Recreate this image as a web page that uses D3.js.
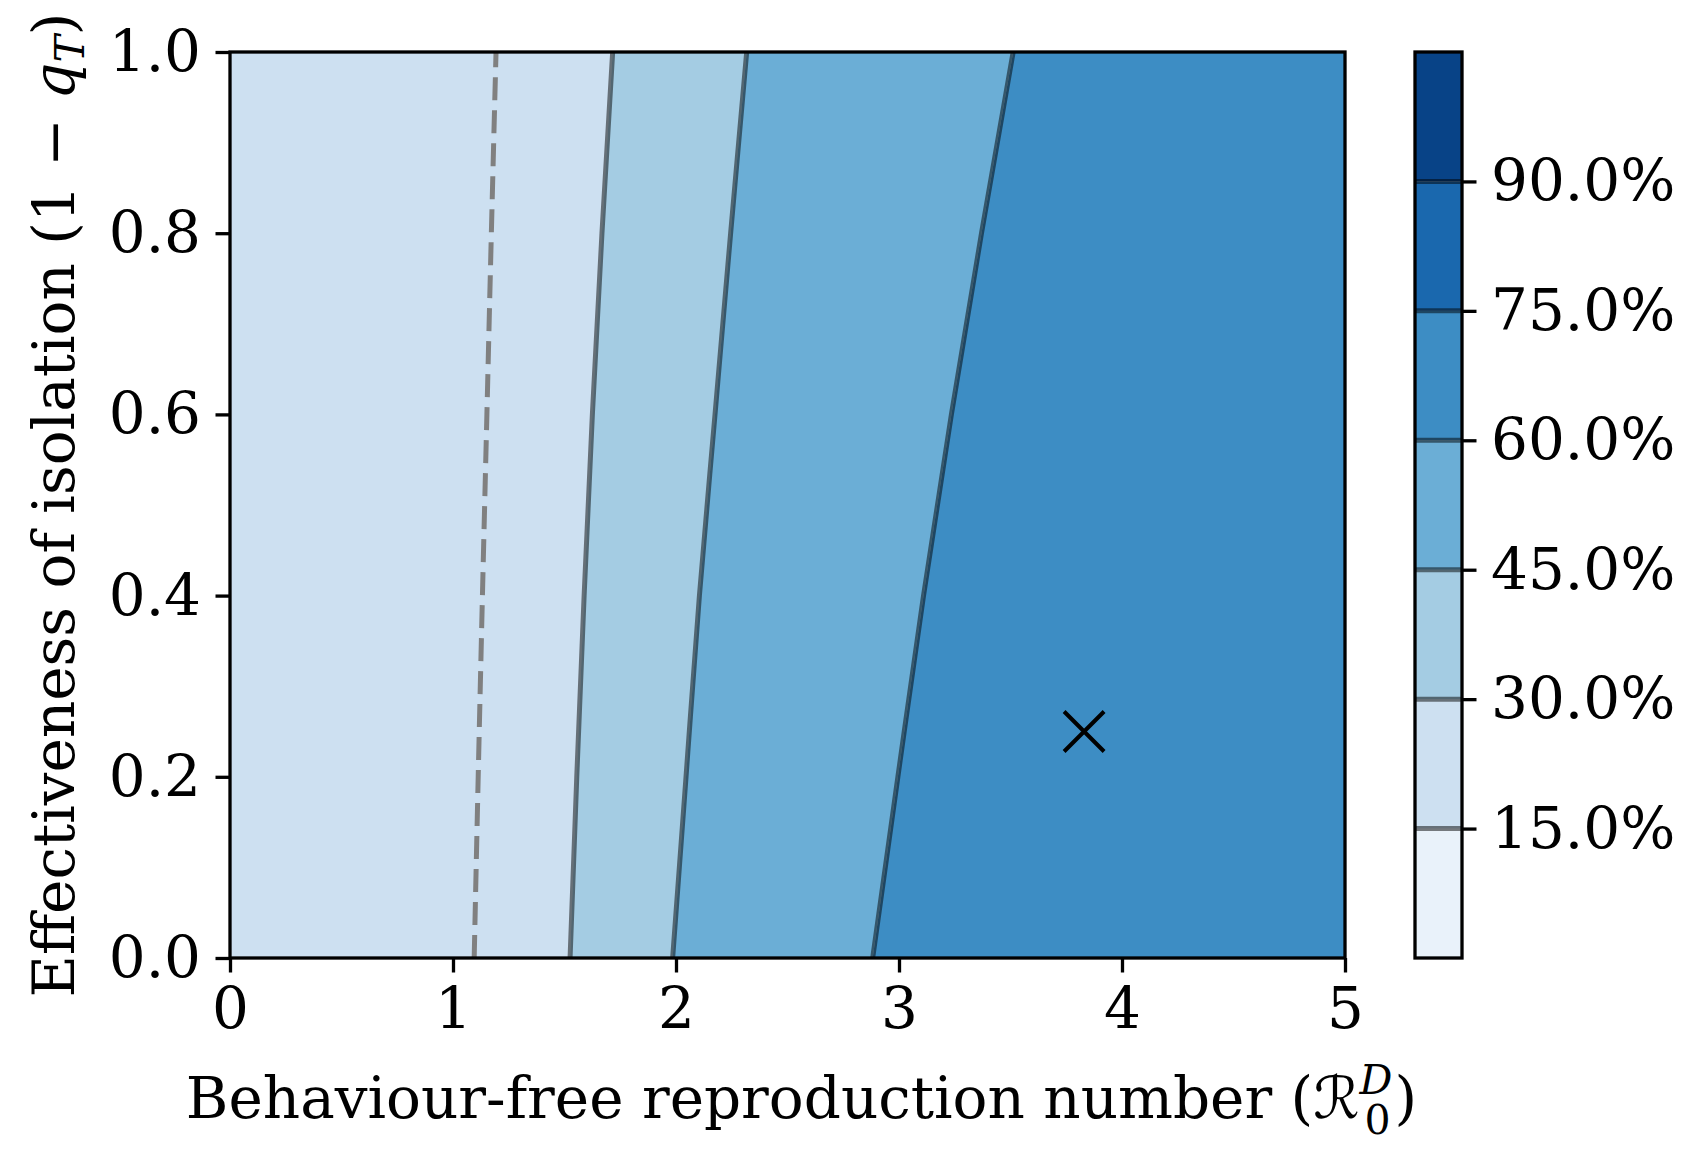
<!DOCTYPE html>
<html>
<head>
<meta charset="utf-8">
<script src="https://cdn.jsdelivr.net/npm/d3@7"></script>
<style>
  body { margin: 0; background: #fff; }
  text { font-family: "DejaVu Serif", serif; fill: #000; }
</style>
</head>
<body>
<svg id="chart" width="1705" height="1162"></svg>
<script>
// values
var qT = [0, 0.2, 0.4, 0.6, 0.8, 1.0];                 // effectiveness of isolation
var r30 = [1.525, 1.555, 1.588, 1.625, 1.668, 1.716];  // 30% contour
var r45 = [1.985, 2.045, 2.105, 2.175, 2.245, 2.317];  // 45% contour
var r60 = [2.882, 2.995, 3.11, 3.235, 3.37, 3.512];    // 60% contour
var rOne = [1.095, 1.113, 1.132, 1.152, 1.172, 1.193]; // threshold (dashed)
var levels = [0, 0.15, 0.3, 0.45, 0.6, 0.75, 0.9, 1.05];
var cbTicks = [0.15, 0.3, 0.45, 0.6, 0.75, 0.9];
var xTicks = [0, 1, 2, 3, 4, 5];
var yTicks = [0, 0.2, 0.4, 0.6, 0.8, 1.0];
var markerPt = [3.83, 0.25];

var blues9 = ["#f7fbff","#deebf7","#c6dbef","#9ecae1","#6baed6","#4292c6","#2171b5","#08519c","#08306b"];

var svg = d3.select("#chart");
var L = 230, R = 1345, T = 52, B = 958;
var fs = 58, fsSmall = 41, tickLen = 14.5, pad = 14.5;

var x = d3.scaleLinear().domain([0, 5]).range([L, R]);
var y = d3.scaleLinear().domain([0, 1]).range([B, T]);
var cmap = d3.scaleLinear().domain(d3.range(9).map(function(i){ return i/8; })).range(blues9);
var bandColor = function(i){ return cmap(((levels[i] + levels[i+1]) / 2) / levels[levels.length-1]); };

// filled bands
var clip = svg.append("clipPath").attr("id", "plotclip");
clip.append("rect").attr("x", L).attr("y", T).attr("width", R - L).attr("height", B - T);
var plot = svg.append("g").attr("clip-path", "url(#plotclip)");

function band(left, right){
  return d3.area()
    .curve(d3.curveMonotoneY)
    .y(function(d, i){ return y(qT[i]); })
    .x0(function(d, i){ return x(left ? left[i] : 0); })
    .x1(function(d, i){ return x(right ? right[i] : 5); })(qT);
}
plot.append("path").attr("d", band(null, r30)).attr("fill", bandColor(1));
plot.append("path").attr("d", band(r30, r45)).attr("fill", bandColor(2));
plot.append("path").attr("d", band(r45, r60)).attr("fill", bandColor(3));
plot.append("path").attr("d", band(r60, null)).attr("fill", bandColor(4));

function contour(vals){
  return d3.line().curve(d3.curveMonotoneY)
    .y(function(d, i){ return y(qT[i]); })
    .x(function(d, i){ return x(vals[i]); })(qT);
}
[r30, r45, r60].forEach(function(v){
  plot.append("path").attr("d", contour(v)).attr("fill", "none")
    .attr("stroke", "#000").attr("stroke-opacity", 0.5).attr("stroke-width", 5);
});
plot.append("path").attr("d", contour(rOne)).attr("fill", "none")
  .attr("stroke", "#808080").attr("stroke-width", 5).attr("stroke-dasharray", "23,10");

// marker
var mx = x(markerPt[0]), my = y(markerPt[1]), ms = 20;
svg.append("path")
  .attr("d", "M" + (mx-ms) + "," + (my-ms) + "L" + (mx+ms) + "," + (my+ms) + "M" + (mx-ms) + "," + (my+ms) + "L" + (mx+ms) + "," + (my-ms))
  .attr("stroke", "#000").attr("stroke-width", 4).attr("fill", "none");

// frame
svg.append("rect").attr("x", L).attr("y", T).attr("width", R - L).attr("height", B - T)
  .attr("fill", "none").attr("stroke", "#000").attr("stroke-width", 3.3);

// axes
var xAxis = svg.append("g").attr("transform", "translate(0," + B + ")")
  .call(d3.axisBottom(x).tickValues(xTicks).tickFormat(d3.format("d")).tickSize(tickLen).tickPadding(pad));
var yAxis = svg.append("g").attr("transform", "translate(" + L + ",0)")
  .call(d3.axisLeft(y).tickValues(yTicks).tickFormat(d3.format(".1f")).tickSize(tickLen).tickPadding(pad));
[xAxis, yAxis].forEach(function(g){
  g.select(".domain").remove();
  g.selectAll("line").attr("stroke", "#000").attr("stroke-width", 3.3);
  g.selectAll("text").attr("font-size", fs).attr("font-family", "DejaVu Serif");
});

// x label: main text, then the stacked super/subscript and closing paren
var xl = svg.append("text").attr("x", (L + R) / 2 + 14).attr("y", 1118)
  .attr("text-anchor", "middle").attr("font-size", fs);
xl.append("tspan").text("Behaviour-free reproduction number (");
xl.append("tspan").text("\u211B").attr("font-family", "DejaVu Sans");
xl.append("tspan").text("D").attr("font-style", "italic").attr("font-size", fsSmall).attr("dy", -24);
xl.append("tspan").text("0").attr("font-size", fsSmall).attr("dx", -28).attr("dy", 40);
xl.append("tspan").text(")").attr("dx", 4).attr("dy", -16);

// y label
var yl = svg.append("text").attr("transform", "translate(74," + ((T + B) / 2) + ") rotate(-90)")
  .attr("text-anchor", "middle").attr("font-size", fs);
yl.append("tspan").text("Effectiveness of isolation (1 \u2212 ");
yl.append("tspan").text("q").attr("font-style", "italic");
yl.append("tspan").text("T").attr("font-style", "italic").attr("font-size", fsSmall).attr("dy", 10);
yl.append("tspan").text(")").attr("dy", -10);

// colorbar
var cbL = 1415, cbR = 1462;
var cy = d3.scaleLinear().domain([levels[0], levels[levels.length-1]]).range([B, T]);
var cb = svg.append("g");
levels.slice(0, -1).forEach(function(v, i){
  cb.append("rect").attr("x", cbL).attr("width", cbR - cbL)
    .attr("y", cy(levels[i+1])).attr("height", cy(levels[i]) - cy(levels[i+1]))
    .attr("fill", bandColor(i));
});
cbTicks.forEach(function(v){
  cb.append("line").attr("x1", cbL).attr("x2", cbR).attr("y1", cy(v)).attr("y2", cy(v))
    .attr("stroke", "#000").attr("stroke-opacity", 0.5).attr("stroke-width", 5);
});
cb.append("rect").attr("x", cbL).attr("y", T).attr("width", cbR - cbL).attr("height", B - T)
  .attr("fill", "none").attr("stroke", "#000").attr("stroke-width", 3.3);
var cAxis = svg.append("g").attr("transform", "translate(" + cbR + ",0)")
  .call(d3.axisRight(cy).tickValues(cbTicks).tickFormat(function(d){ return (d * 100).toFixed(1) + "%"; })
    .tickSize(tickLen).tickPadding(pad));
cAxis.select(".domain").remove();
cAxis.selectAll("line").attr("stroke", "#000").attr("stroke-width", 3.3);
cAxis.selectAll("text").attr("font-size", fs).attr("font-family", "DejaVu Serif");
</script>
</body>
</html>
